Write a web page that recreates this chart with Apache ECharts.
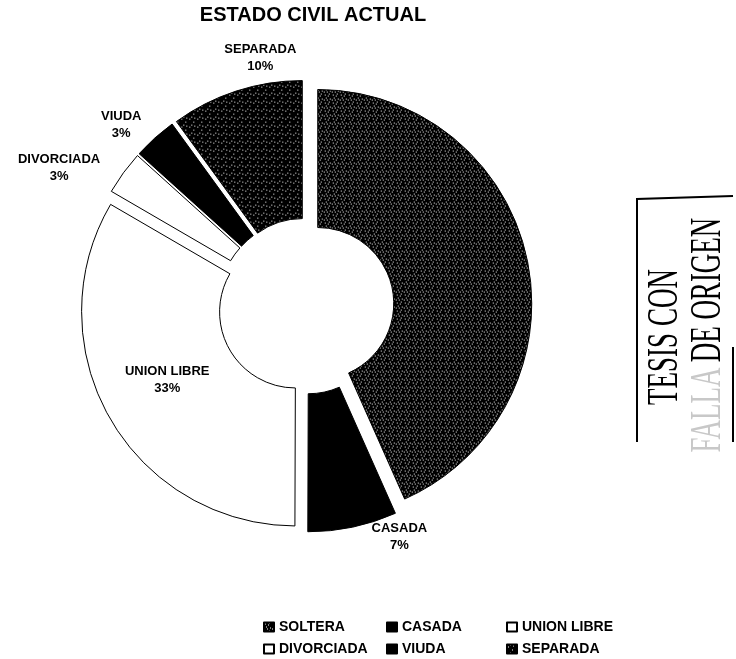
<!DOCTYPE html>
<html><head><meta charset="utf-8">
<script src="https://cdn.jsdelivr.net/npm/echarts@6/dist/echarts.min.js"></script>
<style>html,body{margin:0;padding:0;background:#fff}#c{width:736px;height:659px}</style>
</head><body><div id="c"></div>
<script>
// ---- data ----
const categories = ['SOLTERA', 'CASADA', 'UNION LIBRE', 'DIVORCIADA', 'VIUDA', 'SEPARADA'];
const values = [43.3, 6.7, 33.3, 3.3, 3.3, 10.0];
const outsideLabel = [false, true, false, true, true, true];
const legendCol1 = ['SOLTERA', 'DIVORCIADA'];
const legendCol2 = ['CASADA', 'VIUDA'];
const legendCol3 = ['UNION LIBRE', 'SEPARADA'];

// ---- layout / style ----
const CX = 306, CY = 306, R_IN = 76, R_OUT = 214, EXPLODE = 12, GAP = 15;
const labelNudge = [[0, 0], [38, -22], [0, 0], [-19, 14], [-10, 11], [40, -3]];
const FONT = '"Liberation Sans", Arial, sans-serif';
const LABEL_FONT = 'bold 13px "Liberation Sans", Arial, sans-serif';

function speckle(dots, size) {
  const c = document.createElement('canvas');
  c.width = c.height = size;
  const g = c.getContext('2d');
  g.fillStyle = '#000'; g.fillRect(0, 0, size, size);
  g.fillStyle = '#fff';
  dots.forEach(([x, y]) => g.fillRect(x, y, 1, 1));
  return c;
}
const patSoltera = { image: speckle([[1,1],[4,2],[6,5],[2,4],[5,0],[0,6],[3,6]], 8), repeat: 'repeat' };
const patSeparada = { image: speckle([[1,2],[5,5],[3,0],[6,1]], 8), repeat: 'repeat' };
const fills = [patSoltera, '#000', '#fff', '#fff', '#000', patSeparada];

const total = values.reduce((a, b) => a + b, 0);
function midAngle(i) {
  let s = 0;
  for (let k = 0; k < i; k++) s += values[k];
  return (s + values[i] / 2) / total * 2 * Math.PI;
}
const measureCtx = document.createElement('canvas').getContext('2d');
measureCtx.font = LABEL_FONT;

// outside slice labels, placed beyond each slice's mid angle
const labelGraphics = [];
categories.forEach((name, i) => {
  if (!outsideLabel[i]) return;
  const a = midAngle(i);
  const ux = Math.sin(a), uy = -Math.cos(a);
  const w = measureCtx.measureText(name).width, h = 34;
  const rr = R_OUT + EXPLODE + GAP;
  labelGraphics.push({
    type: 'text',
    x: CX + ux * rr + ux * w / 2 + labelNudge[i][0],
    y: CY + uy * rr + uy * h / 2 + labelNudge[i][1],
    style: {
      text: name + '\n' + Math.round(values[i] / total * 100) + '%',
      font: LABEL_FONT, fill: '#000', lineHeight: 17,
      align: 'center', verticalAlign: 'middle', textAlign: 'center', textVerticalAlign: 'middle'
    }
  });
});

const chart = echarts.init(document.getElementById('c'), null, { renderer: 'canvas' });

const legendBase = {
  orient: 'vertical', itemWidth: 10, itemHeight: 9, itemGap: 8, icon: 'rect',
  selectedMode: false, padding: 0, height: 40,
  textStyle: { fontFamily: FONT, fontWeight: 'bold', fontSize: 14, color: '#000', lineHeight: 14 },
  top: 620
};

chart.setOption({
  backgroundColor: '#fff',
  animation: false,
  title: {
    text: 'ESTADO CIVIL ACTUAL', left: 313, top: 5, padding: 0, textAlign: 'center',
    textStyle: { fontFamily: FONT, fontWeight: 'bold', fontSize: 20, color: '#000' }
  },
  legend: [
    Object.assign({}, legendBase, { data: legendCol1, left: 263 }),
    Object.assign({}, legendBase, { data: legendCol2, left: 386 }),
    Object.assign({}, legendBase, { data: legendCol3, left: 506 })
  ],
  series: [{
    type: 'pie',
    center: [CX, CY],
    radius: [R_IN, R_OUT],
    startAngle: 90,
    clockwise: true,
    percentPrecision: 0,
    avoidLabelOverlap: false,
    selectedMode: 'multiple',
    selectedOffset: EXPLODE,
    emphasis: { disabled: true },
    itemStyle: { borderColor: '#000', borderWidth: 1 },
    select: { itemStyle: { borderColor: '#000', borderWidth: 1 } },
    label: {
      show: false, position: 'inside', formatter: '{b}\n{d}%',
      fontFamily: FONT, fontWeight: 'bold', fontSize: 13, color: '#000', lineHeight: 17, align: 'center'
    },
    labelLine: { show: false },
    labelLayout: function (p) { return p.dataIndex === 2 ? { dy: -6 } : {}; },
    data: categories.map((name, i) => ({
      name: name, value: values[i], selected: true,
      itemStyle: { color: fills[i] },
      label: { show: i === 2 }
    }))
  }],
  graphic: labelGraphics.concat([
    { type: 'polyline', shape: { points: [[637, 442], [637, 199], [733, 196]] },
      style: { stroke: '#000', lineWidth: 2, fill: null } },
    { type: 'line', shape: { x1: 733, y1: 347, x2: 733, y2: 442 }, style: { stroke: '#000', lineWidth: 2 } },
    { type: 'text', x: 665, y: 337, rotation: Math.PI / 2, scaleY: 1.68,
      style: { text: 'TESIS CON', font: '27px "Liberation Serif", serif', fill: '#000',
        align: 'center', verticalAlign: 'middle', textAlign: 'center', textVerticalAlign: 'middle' } },
    { type: 'text', x: 708, y: 290, rotation: Math.PI / 2, scaleY: 1.68,
      style: { text: 'DE ORIGEN', font: '27px "Liberation Serif", serif', fill: '#000',
        align: 'center', verticalAlign: 'middle', textAlign: 'center', textVerticalAlign: 'middle' } },
    { type: 'text', x: 708, y: 410, rotation: Math.PI / 2, scaleY: 1.68,
      style: { text: 'FALLA', font: '27px "Liberation Serif", serif', fill: '#c8c8c8',
        align: 'center', verticalAlign: 'middle', textAlign: 'center', textVerticalAlign: 'middle' } }
  ])
});
</script>
</body></html>
